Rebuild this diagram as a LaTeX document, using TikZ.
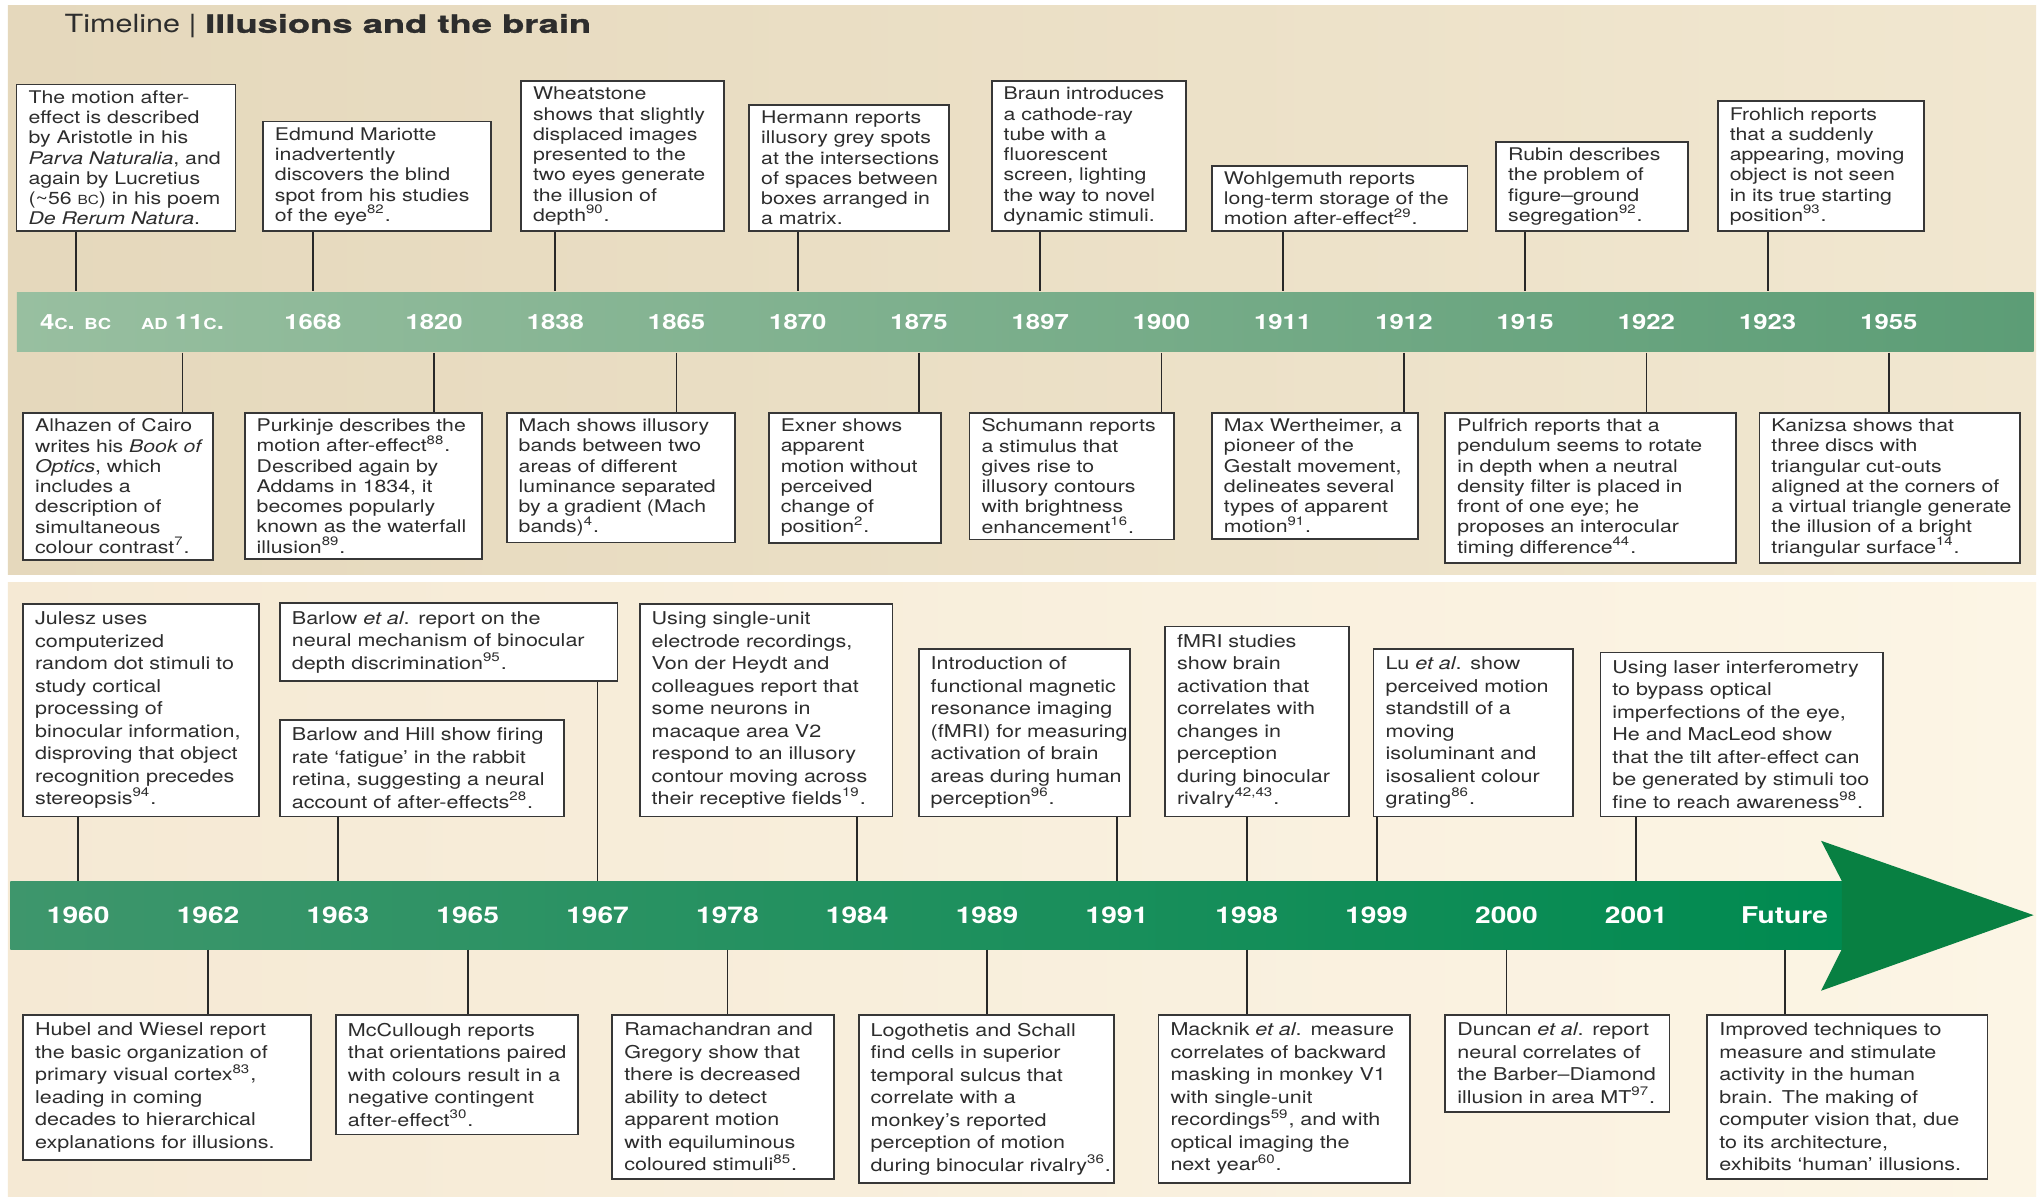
\documentclass[tikz,border=0pt]{standalone}
\usepackage{fontspec}
\setmainfont[FakeStretch=1.22]{TeX Gyre Heros}
\newfontfamily\heavyfont[FakeStretch=1.45,BoldFeatures={FakeBold=1.2}]{TeX Gyre Heros}
\usetikzlibrary{positioning}
\newcommand{\minicaps}[1]{\scalebox{0.72}{#1}}
\newcommand{\rf}[1]{\textsuperscript{#1}}
\definecolor{ink}{RGB}{45,45,45}
\definecolor{boxline}{RGB}{55,55,55}
\definecolor{stemline}{RGB}{40,40,40}
\definecolor{paneltopl}{RGB}{229,216,188}
\definecolor{paneltopr}{RGB}{241,231,208}
\definecolor{panellowl}{RGB}{245,233,212}
\definecolor{panellowr}{RGB}{252,245,229}
\definecolor{bandal}{RGB}{152,191,160}
\definecolor{bandar}{RGB}{92,157,118}
\definecolor{bandbl}{RGB}{62,150,108}
\definecolor{bandbr}{RGB}{0,138,80}
\definecolor{headgreen}{RGB}{8,128,66}

\begin{document}
\begin{tikzpicture}[x=0.65pt,y=-0.65pt,semithick,
		event/.style={draw=boxline,fill=white,line width=0.9pt,text=ink,
			inner xsep=6pt,inner ysep=3pt,font=\fontsize{8.7}{10.1}\selectfont,
			execute at begin node={\raggedright\rightskip=-14pt plus 1fil\hyphenpenalty=10000\relax}},
		eventlow/.style={event,inner ysep=4pt,font=\fontsize{8.8}{11.2}\selectfont},
		bw/.code={\pgfmathsetlengthmacro\boxtw{#1*0.65pt-12pt}\tikzset{text width=\boxtw}},
		year/.style={text=white,font=\bfseries\fontsize{10.5}{12}\selectfont},
		yearlow/.style={year,font=\bfseries\fontsize{11.5}{13}\selectfont},
		stem/.style={draw=stemline,line width=0.9pt}]
		\useasboundingbox (0,0) rectangle (1568,921);
		\fill[white] (0,0) rectangle (1568,921);
		\shade[left color=paneltopl,right color=paneltopr] (6,4) rectangle (1562,441);
		\shade[left color=panellowl,right color=panellowr] (6,447) rectangle (1562,918);

		\node[anchor=west,text=ink,font=\fontsize{12.5}{14}\selectfont] (title) at (44,20)
		{Timeline | {\heavyfont\bfseries Illusions and the brain}};

		% first band
		\node[shade,left color=bandal,right color=bandar,minimum width=1547*0.65pt,
			minimum height=46*0.65pt,inner sep=0pt] (bandA) at (786.5,247) {};
		\node[year] (y4bc) at (58,247) {4\minicaps{C}. \minicaps{BC}};
		\node[year] (y11c) at (140,247) {\minicaps{AD} 11\minicaps{C}.};
		\begin{scope}[node distance=60.45pt]
		\node[year] (y1668) at (240,247) {1668};
		\node[year,right of=y1668] (y1820) {1820};
		\node[year,right of=y1820] (y1838) {1838};
		\node[year,right of=y1838] (y1865) {1865};
		\node[year,right of=y1865] (y1870) {1870};
		\node[year,right of=y1870] (y1875) {1875};
		\node[year,right of=y1875] (y1897) {1897};
		\node[year,right of=y1897] (y1900) {1900};
		\node[year,right of=y1900] (y1911) {1911};
		\node[year,right of=y1911] (y1912) {1912};
		\node[year,right of=y1912] (y1915) {1915};
		\node[year,right of=y1915] (y1922) {1922};
		\node[year,right of=y1922] (y1923) {1923};
		\node[year,right of=y1923] (y1955) {1955};
		\end{scope}

		\node[event,bw=168,anchor=south west] (aristotle) at (12,178) {The motion after-\\effect is described\\by Aristotle in his\\\textit{Parva Naturalia}, and\\again by Lucretius\\(\textasciitilde56 \minicaps{BC}) in his poem\\\textit{De Rerum Natura}.};
		\node[event,bw=175,anchor=south west] (mariotte) at (201,178) {Edmund Mariotte\\inadvertently\\discovers the blind\\spot from his studies\\of the eye\rf{82}.};
		\node[event,bw=156,anchor=south west] (wheatstone) at (399,178) {Wheatstone\\shows that slightly\\displaced images\\presented to the\\two eyes generate\\the illusion of\\depth\rf{90}.};
		\node[event,bw=153,anchor=south west] (hermann) at (574,178) {Hermann reports\\illusory grey spots\\at the intersections\\of spaces between\\boxes arranged in\\a matrix.};
		\node[event,bw=149,anchor=south west] (braun) at (760,178) {Braun introduces\\a cathode-ray\\tube with a\\fluorescent\\screen, lighting\\the way to novel\\dynamic stimuli.};
		\node[event,bw=196,anchor=south west] (wohlgemuth) at (929,178) {Wohlgemuth reports\\long-term storage of the\\motion after-effect\rf{29}.};
		\node[event,bw=147,anchor=south west] (rubin) at (1147,178) {Rubin describes\\the problem of\\figure--ground\\segregation\rf{92}.};
		\node[event,bw=158,anchor=south west] (frohlich) at (1317,178) {Frohlich reports\\that a suddenly\\appearing, moving\\object is not seen\\in its true starting\\position\rf{93}.};

		\node[event,bw=146,anchor=north west] (alhazen) at (17,316) {Alhazen of Cairo\\writes his \textit{Book of}\\\textit{Optics}, which\\includes a\\description of\\simultaneous\\colour contrast\rf{7}.};
		\node[event,bw=182,anchor=north west] (purkinje) at (187,316) {Purkinje describes the\\motion after-effect\rf{88}.\\Described again by\\Addams in 1834, it\\becomes popularly\\known as the waterfall\\illusion\rf{89}.};
		\node[event,bw=175,anchor=north west] (mach) at (388,316) {Mach shows illusory\\bands between two\\areas of different\\luminance separated\\by a gradient (Mach\\bands)\rf{4}.};
		\node[event,bw=132,anchor=north west] (exner) at (589,316) {Exner shows\\apparent\\motion without\\perceived\\change of\\position\rf{2}.};
		\node[event,bw=157,anchor=north west] (schumann) at (743,316) {Schumann reports\\a stimulus that\\gives rise to\\illusory contours\\with brightness\\enhancement\rf{16}.};
		\node[event,bw=158,anchor=north west] (wertheimer) at (929,316) {Max Wertheimer, a\\pioneer of the\\Gestalt movement,\\delineates several\\types of apparent\\motion\rf{91}.};
		\node[event,bw=223,anchor=north west] (pulfrich) at (1108,316) {Pulfrich reports that a\\pendulum seems to rotate\\in depth when a neutral\\density filter is placed in\\front of one eye; he\\proposes an interocular\\timing difference\rf{44}.};
		\node[event,bw=200,anchor=north west] (kanizsa) at (1349,316) {Kanizsa shows that\\three discs with\\triangular cut-outs\\aligned at the corners of\\a virtual triangle generate\\the illusion of a bright\\triangular surface\rf{14}.};

		\draw[stem] (y4bc |- aristotle.south) -- (y4bc |- bandA.north);
		\draw[stem] (y1668 |- mariotte.south) -- (y1668 |- bandA.north);
		\draw[stem] (y1838 |- wheatstone.south) -- (y1838 |- bandA.north);
		\draw[stem] (y1870 |- hermann.south) -- (y1870 |- bandA.north);
		\draw[stem] (y1897 |- braun.south) -- (y1897 |- bandA.north);
		\draw[stem] (y1911 |- wohlgemuth.south) -- (y1911 |- bandA.north);
		\draw[stem] (y1915 |- rubin.south) -- (y1915 |- bandA.north);
		\draw[stem] (y1923 |- frohlich.south) -- (y1923 |- bandA.north);
		\draw[stem] (y11c |- bandA.south) -- (y11c |- alhazen.north);
		\draw[stem] (y1820 |- bandA.south) -- (y1820 |- purkinje.north);
		\draw[stem] (y1865 |- bandA.south) -- (y1865 |- mach.north);
		\draw[stem] (y1875 |- bandA.south) -- (y1875 |- exner.north);
		\draw[stem] (y1900 |- bandA.south) -- (y1900 |- schumann.north);
		\draw[stem] (y1912 |- bandA.south) -- (y1912 |- wertheimer.north);
		\draw[stem] (y1922 |- bandA.south) -- (y1922 |- pulfrich.north);
		\draw[stem] (y1955 |- bandA.south) -- (y1955 |- kanizsa.north);

		% second band, the arrow
		\node[shade,left color=bandbl,right color=bandbr,minimum width=1405*0.65pt,
			minimum height=52*0.65pt,inner sep=0pt] (bandB) at (710.5,702) {};
		\fill[headgreen] (1413,676) -- (1397,645) -- (1560,702) -- (1397,760) -- (1413,728) -- cycle;
		\begin{scope}[node distance=64.74pt]
		\node[yearlow] (y1960) at (60,702) {1960};
		\node[yearlow,right of=y1960] (y1962) {1962};
		\node[yearlow,right of=y1962] (y1963) {1963};
		\node[yearlow,right of=y1963] (y1965) {1965};
		\node[yearlow,right of=y1965] (y1967) {1967};
		\node[yearlow,right of=y1967] (y1978) {1978};
		\node[yearlow,right of=y1978] (y1984) {1984};
		\node[yearlow,right of=y1984] (y1989) {1989};
		\node[yearlow,right of=y1989] (y1991) {1991};
		\node[yearlow,right of=y1991] (y1998) {1998};
		\node[yearlow,right of=y1998] (y1999) {1999};
		\node[yearlow,right of=y1999] (y2000) {2000};
		\node[yearlow,right of=y2000] (y2001) {2001};
		\end{scope}
		\node[yearlow] (yfuture) at (1369,702) {Future};

		\node[eventlow,bw=181,anchor=south west] (julesz) at (17,627) {Julesz uses\\computerized\\random dot stimuli to\\study cortical\\processing of\\binocular information,\\disproving that object\\recognition precedes\\stereopsis\rf{94}.};
		\node[eventlow,bw=259,anchor=south west] (barlowetal) at (214,523) {Barlow \textit{et al}. report on the\\neural mechanism of binocular\\depth discrimination\rf{95}.};
		\node[eventlow,bw=218,anchor=south west] (barlowhill) at (214,627) {Barlow and Hill show firing\\rate `fatigue' in the rabbit\\retina, suggesting a neural\\account of after-effects\rf{28}.};
		\node[eventlow,bw=194,anchor=south west] (heydt) at (490,627) {Using single-unit\\electrode recordings,\\Von der Heydt and\\colleagues report that\\some neurons in\\macaque area V2\\respond to an illusory\\contour moving across\\their receptive fields\rf{19}.};
		\node[eventlow,bw=162,anchor=south west] (fmriintro) at (704,627) {Introduction of\\functional magnetic\\resonance imaging\\(fMRI) for measuring\\activation of brain\\areas during human\\perception\rf{96}.};
		\node[eventlow,bw=141,anchor=south west] (fmristudies) at (893,627) {fMRI studies\\show brain\\activation that\\correlates with\\changes in\\perception\\during binocular\\rivalry\rf{42,43}.};
		\node[eventlow,bw=153,anchor=south west] (lu) at (1053,627) {Lu \textit{et al}. show\\perceived motion\\standstill of a\\moving\\isoluminant and\\isosalient colour\\grating\rf{86}.};
		\node[eventlow,bw=217,anchor=south west] (laser) at (1227,627) {Using laser interferometry\\to bypass optical\\imperfections of the eye,\\He and MacLeod show\\that the tilt after-effect can\\be generated by stimuli too\\fine to reach awareness\rf{98}.};

		\node[eventlow,bw=221,anchor=north west] (hubel) at (17,778) {Hubel and Wiesel report\\the basic organization of\\primary visual cortex\rf{83},\\leading in coming\\decades to hierarchical\\explanations for illusions.};
		\node[eventlow,bw=186,anchor=north west] (mccullough) at (257,778) {McCullough reports\\that orientations paired\\with colours result in a\\negative contingent\\after-effect\rf{30}.};
		\node[eventlow,bw=170,anchor=north west] (rama) at (469,778) {Ramachandran and\\Gregory show that\\there is decreased\\ability to detect\\apparent motion\\with equiluminous\\coloured stimuli\rf{85}.};
		\node[eventlow,bw=196,anchor=north west] (logothetis) at (658,778) {Logothetis and Schall\\find cells in superior\\temporal sulcus that\\correlate with a\\monkey's reported\\perception of motion\\during binocular rivalry\rf{36}.};
		\node[eventlow,bw=193,anchor=north west] (macknik) at (888,778) {Macknik \textit{et al}. measure\\correlates of backward\\masking in monkey V1\\with single-unit\\recordings\rf{59}, and with\\optical imaging the\\next year\rf{60}.};
		\node[eventlow,bw=172,anchor=north west] (duncan) at (1108,778) {Duncan \textit{et al}. report\\neural correlates of\\the Barber--Diamond\\illusion in area MT\rf{97}.};
		\node[eventlow,bw=215,anchor=north west] (improved) at (1309,778) {Improved techniques to\\measure and stimulate\\activity in the human\\brain. The making of\\computer vision that, due\\to its architecture,\\exhibits `human' illusions.};

		\draw[stem] (y1960 |- julesz.south) -- (y1960 |- bandB.north);
		\draw[stem] (y1963 |- barlowhill.south) -- (y1963 |- bandB.north);
		\draw[stem] (y1967 |- barlowetal.south) -- (y1967 |- bandB.north);
		\draw[stem] (y1984 |- heydt.south) -- (y1984 |- bandB.north);
		\draw[stem] (y1991 |- fmriintro.south) -- (y1991 |- bandB.north);
		\draw[stem] (y1998 |- fmristudies.south) -- (y1998 |- bandB.north);
		\draw[stem] (y1999 |- lu.south) -- (y1999 |- bandB.north);
		\draw[stem] (y2001 |- laser.south) -- (y2001 |- bandB.north);
		\draw[stem] (y1962 |- bandB.south) -- (y1962 |- hubel.north);
		\draw[stem] (y1965 |- bandB.south) -- (y1965 |- mccullough.north);
		\draw[stem] (y1978 |- bandB.south) -- (y1978 |- rama.north);
		\draw[stem] (y1989 |- bandB.south) -- (y1989 |- logothetis.north);
		\draw[stem] (y1998 |- bandB.south) -- (y1998 |- macknik.north);
		\draw[stem] (y2000 |- bandB.south) -- (y2000 |- duncan.north);
		\draw[stem] (yfuture |- bandB.south) -- (yfuture |- improved.north);
	\end{tikzpicture}
\end{document}
